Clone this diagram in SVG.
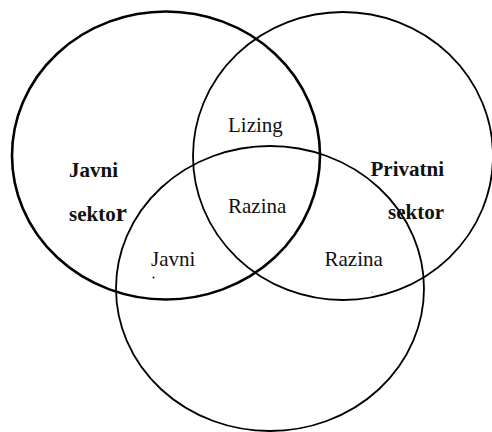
<svg xmlns="http://www.w3.org/2000/svg" width="492" height="432" viewBox="0 0 492 432">
  <style>
    .set { fill: none; stroke: #000; }
    .thick { stroke-width: 2.6; }
    .thin { stroke-width: 1.8; }
    text { font-family: "Liberation Serif", "Times New Roman", serif; font-size: 21px; fill: #111; }
    .b { font-weight: bold; }
  </style>
  <rect width="492" height="432" fill="#fff"/>
  <g id="set-javni">
    <ellipse class="set thick" cx="166" cy="155.5" rx="154" ry="144"/>
  </g>
  <g id="set-privatni">
    <ellipse class="set thin" cx="343" cy="156" rx="150" ry="144"/>
  </g>
  <g id="set-bottom">
    <ellipse class="set thin" cx="270" cy="288.5" rx="154" ry="142.5"/>
  </g>
  <g id="label-javni-sektor">
    <text class="b" x="69" y="177">Javni</text>
    <text class="b" x="69" y="221">sekto<tspan font-size="25">r</tspan></text>
  </g>
  <g id="label-privatni-sektor">
    <text class="b" x="370.5" y="176">Privatni</text>
    <text class="b" x="388" y="218.5">sektor</text>
  </g>
  <g id="label-lizing">
    <text x="228" y="132">Lizing</text>
  </g>
  <g id="label-razina-center">
    <text x="228" y="213">Razina</text>
  </g>
  <g id="label-javni">
    <text x="151" y="265.5">Javni</text>
    <circle cx="153.5" cy="277.5" r="1" fill="#111"/>
  </g>
  <g id="label-razina-right">
    <text x="324.5" y="265.5">Razina</text>
    <rect x="371.5" y="291.8" width="1.6" height="0.8" fill="#777"/>
  </g>
</svg>
